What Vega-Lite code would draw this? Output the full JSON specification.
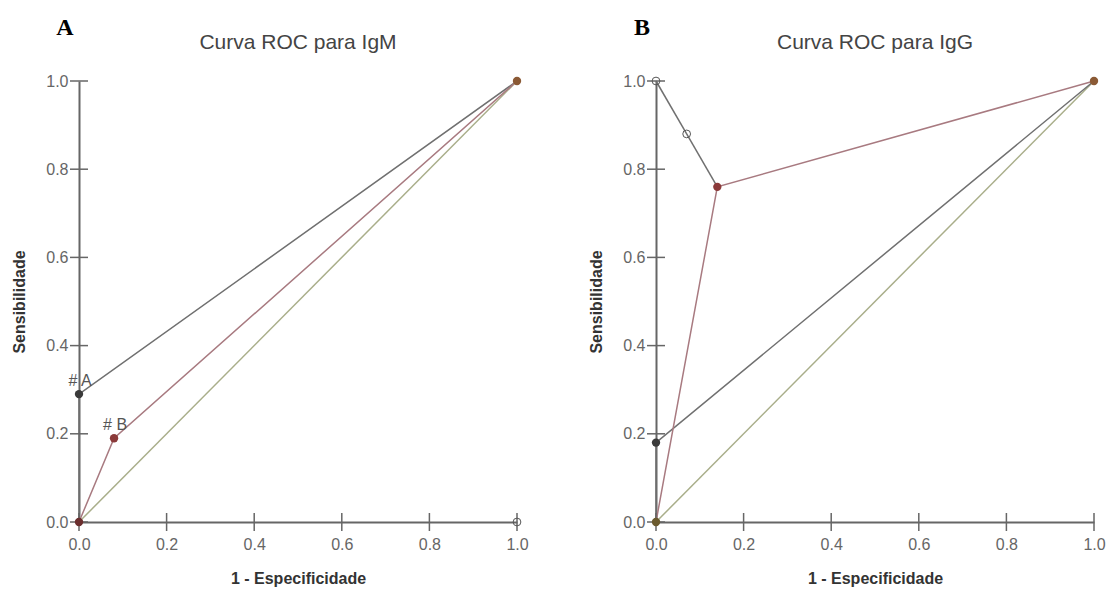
{
  "$schema": "https://vega.github.io/schema/vega-lite/v6.json",
  "background": "white",
  "padding": {"left": 11, "top": 16, "right": 6, "bottom": 2},
  "config": {
    "view": {"stroke": null},
    "font": "Liberation Sans",
    "axis": {"grid": false, "ticks": false, "labelFlush": false, "domainColor": "#666666", "domainWidth": 2, "labelColor": "#666666", "labelFontSize": 16, "labelFont": "Liberation Sans", "titleFont": "Liberation Sans", "titleFontSize": 16, "titleFontWeight": "bold", "titleColor": "#333333"},
    "title": {"fontSize": 21, "fontWeight": "normal", "color": "#444444", "font": "Liberation Sans", "anchor": "middle", "offset": -37},
    "tick": {"color": "#666666", "thickness": 1.5, "opacity": 1}
  },
  "datasets": {
    "tickvals": [{"v": 0}, {"v": 0.2}, {"v": 0.4}, {"v": 0.6}, {"v": 0.8}, {"v": 1}],
    "linesA": [
      {"curve": "diag", "ord": 0, "x": 0, "y": 0},
      {"curve": "diag", "ord": 1, "x": 1, "y": 1},
      {"curve": "gray", "ord": 0, "x": 0, "y": 0},
      {"curve": "gray", "ord": 1, "x": 0, "y": 0.29},
      {"curve": "gray", "ord": 2, "x": 1, "y": 1},
      {"curve": "red", "ord": 0, "x": 0, "y": 0},
      {"curve": "red", "ord": 1, "x": 0.08, "y": 0.19},
      {"curve": "red", "ord": 2, "x": 1, "y": 1}
    ],
    "ptsA": [
      {"kind": "dark", "x": 0, "y": 0.29},
      {"kind": "redpt", "x": 0.08, "y": 0.19},
      {"kind": "originA", "x": 0, "y": 0},
      {"kind": "end", "x": 1, "y": 1}
    ],
    "openA": [
      {"x": 1, "y": 0}
    ],
    "labelsA": [
      {"x": 0, "y": 0.29, "t": "# A"},
      {"x": 0.08, "y": 0.19, "t": "# B"}
    ],
    "letterA": [{"x": 0, "y": 1, "t": "A"}],
    "linesB": [
      {"curve": "diag", "ord": 0, "x": 0, "y": 0},
      {"curve": "diag", "ord": 1, "x": 1, "y": 1},
      {"curve": "gray2", "ord": 0, "x": 0, "y": 0},
      {"curve": "gray2", "ord": 1, "x": 0, "y": 0.18},
      {"curve": "gray2", "ord": 2, "x": 1, "y": 1},
      {"curve": "gray", "ord": 0, "x": 0, "y": 1},
      {"curve": "gray", "ord": 1, "x": 0.07, "y": 0.88},
      {"curve": "gray", "ord": 2, "x": 0.14, "y": 0.76},
      {"curve": "red", "ord": 0, "x": 0, "y": 0},
      {"curve": "red", "ord": 1, "x": 0.14, "y": 0.76},
      {"curve": "red", "ord": 2, "x": 1, "y": 1}
    ],
    "ptsB": [
      {"kind": "redpt", "x": 0.14, "y": 0.76},
      {"kind": "dark", "x": 0, "y": 0.18},
      {"kind": "originB", "x": 0, "y": 0},
      {"kind": "end", "x": 1, "y": 1}
    ],
    "openB": [
      {"x": 0, "y": 1},
      {"x": 0.07, "y": 0.88}
    ],
    "letterB": [{"x": 0, "y": 1, "t": "B"}]
  },
  "spacing": 139,
  "bounds": "flush",
  "hconcat": [
    {
      "width": 438,
      "height": 441,
      "title": "Curva ROC para IgM",
      "layer": [
        {
          "data": {"name": "linesA"},
          "mark": {"type": "line", "strokeWidth": 1.5, "clip": false},
          "encoding": {
            "x": {"field": "x", "type": "quantitative", "scale": {"domain": [0, 1], "nice": false}, "axis": {"orient": "bottom", "values": [0, 0.2, 0.4, 0.6, 0.8, 1], "format": ".1f", "labelPadding": 14, "title": "1 - Especificidade", "titlePadding": 18}},
            "y": {"field": "y", "type": "quantitative", "scale": {"domain": [0, 1], "nice": false}, "axis": {"orient": "left", "values": [0, 0.2, 0.4, 0.6, 0.8, 1], "format": ".1f", "labelPadding": 11, "title": "Sensibilidade", "titlePadding": 18}},
            "color": {"field": "curve", "type": "nominal", "legend": null, "scale": {"domain": ["gray", "gray2", "red", "diag", "dark", "redpt", "originA", "originB", "end"], "range": ["#707070", "#707070", "#a87a80", "#a9ae8a", "#3a3a3a", "#8b3a3a", "#6b2e2e", "#6b5a2e", "#8b5a35"]}},
            "order": {"field": "ord", "type": "quantitative"}
          }
        },
        {
          "data": {"name": "tickvals"},
          "mark": {"type": "tick", "orient": "horizontal", "size": 18},
          "encoding": {
            "y": {"field": "v", "type": "quantitative"},
            "x": {"datum": 0, "type": "quantitative"}
          }
        },
        {
          "data": {"name": "tickvals"},
          "mark": {"type": "tick", "orient": "vertical", "size": 18},
          "encoding": {
            "x": {"field": "v", "type": "quantitative"},
            "y": {"datum": 0, "type": "quantitative"}
          }
        },
        {
          "data": {"name": "ptsA"},
          "mark": {"type": "point", "filled": true, "size": 70, "opacity": 1, "clip": false},
          "encoding": {
            "x": {"field": "x", "type": "quantitative"},
            "y": {"field": "y", "type": "quantitative"},
            "color": {"field": "kind", "type": "nominal", "legend": null, "scale": {"domain": ["gray", "gray2", "red", "diag", "dark", "redpt", "originA", "originB", "end"], "range": ["#707070", "#707070", "#a87a80", "#a9ae8a", "#3a3a3a", "#8b3a3a", "#6b2e2e", "#6b5a2e", "#8b5a35"]}}
          }
        },
        {
          "data": {"name": "openA"},
          "mark": {"type": "point", "filled": false, "size": 60, "stroke": "#555555", "strokeWidth": 1, "opacity": 1, "clip": false},
          "encoding": {
            "x": {"field": "x", "type": "quantitative"},
            "y": {"field": "y", "type": "quantitative"}
          }
        },
        {
          "data": {"name": "labelsA"},
          "mark": {"type": "text", "fontSize": 16, "color": "#555555", "dx": 1, "dy": -8, "align": "center", "baseline": "alphabetic"},
          "encoding": {
            "x": {"field": "x", "type": "quantitative"},
            "y": {"field": "y", "type": "quantitative"},
            "text": {"field": "t"}
          }
        },
        {
          "data": {"name": "letterA"},
          "mark": {"type": "text", "font": "Liberation Serif", "fontWeight": "bold", "fontSize": 24, "color": "#000000", "dx": -14, "dy": -46, "align": "center", "baseline": "alphabetic"},
          "encoding": {
            "x": {"field": "x", "type": "quantitative"},
            "y": {"field": "y", "type": "quantitative"},
            "text": {"field": "t"}
          }
        }
      ]
    },
    {
      "width": 438,
      "height": 441,
      "title": "Curva ROC para IgG",
      "layer": [
        {
          "data": {"name": "linesB"},
          "mark": {"type": "line", "strokeWidth": 1.5, "clip": false},
          "encoding": {
            "x": {"field": "x", "type": "quantitative", "scale": {"domain": [0, 1], "nice": false}, "axis": {"orient": "bottom", "values": [0, 0.2, 0.4, 0.6, 0.8, 1], "format": ".1f", "labelPadding": 14, "title": "1 - Especificidade", "titlePadding": 18}},
            "y": {"field": "y", "type": "quantitative", "scale": {"domain": [0, 1], "nice": false}, "axis": {"orient": "left", "values": [0, 0.2, 0.4, 0.6, 0.8, 1], "format": ".1f", "labelPadding": 11, "title": "Sensibilidade", "titlePadding": 18}},
            "color": {"field": "curve", "type": "nominal", "legend": null, "scale": {"domain": ["gray", "gray2", "red", "diag", "dark", "redpt", "originA", "originB", "end"], "range": ["#707070", "#707070", "#a87a80", "#a9ae8a", "#3a3a3a", "#8b3a3a", "#6b2e2e", "#6b5a2e", "#8b5a35"]}},
            "order": {"field": "ord", "type": "quantitative"}
          }
        },
        {
          "data": {"name": "tickvals"},
          "mark": {"type": "tick", "orient": "horizontal", "size": 18},
          "encoding": {
            "y": {"field": "v", "type": "quantitative"},
            "x": {"datum": 0, "type": "quantitative"}
          }
        },
        {
          "data": {"name": "tickvals"},
          "mark": {"type": "tick", "orient": "vertical", "size": 18},
          "encoding": {
            "x": {"field": "v", "type": "quantitative"},
            "y": {"datum": 0, "type": "quantitative"}
          }
        },
        {
          "data": {"name": "ptsB"},
          "mark": {"type": "point", "filled": true, "size": 70, "opacity": 1, "clip": false},
          "encoding": {
            "x": {"field": "x", "type": "quantitative"},
            "y": {"field": "y", "type": "quantitative"},
            "color": {"field": "kind", "type": "nominal", "legend": null, "scale": {"domain": ["gray", "gray2", "red", "diag", "dark", "redpt", "originA", "originB", "end"], "range": ["#707070", "#707070", "#a87a80", "#a9ae8a", "#3a3a3a", "#8b3a3a", "#6b2e2e", "#6b5a2e", "#8b5a35"]}}
          }
        },
        {
          "data": {"name": "openB"},
          "mark": {"type": "point", "filled": false, "size": 60, "stroke": "#555555", "strokeWidth": 1, "opacity": 1, "clip": false},
          "encoding": {
            "x": {"field": "x", "type": "quantitative"},
            "y": {"field": "y", "type": "quantitative"}
          }
        },
        {
          "data": {"name": "letterB"},
          "mark": {"type": "text", "font": "Liberation Serif", "fontWeight": "bold", "fontSize": 24, "color": "#000000", "dx": -14, "dy": -46, "align": "center", "baseline": "alphabetic"},
          "encoding": {
            "x": {"field": "x", "type": "quantitative"},
            "y": {"field": "y", "type": "quantitative"},
            "text": {"field": "t"}
          }
        }
      ]
    }
  ]
}
